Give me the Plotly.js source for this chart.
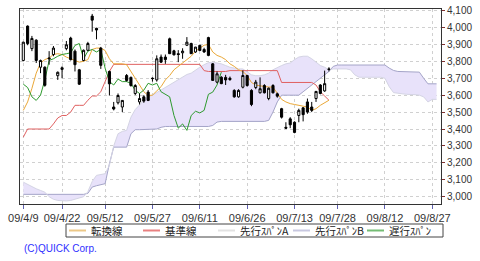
<!DOCTYPE html>
<html><head><meta charset="utf-8">
<script src="https://cdn.plot.ly/plotly-3.0.1.min.js"></script>
<style>html,body{margin:0;padding:0;background:#fff;} #chart{width:480px;height:261px;}</style>
</head><body><div id="chart"></div>
<script>
// x tick labels (trading-day index positions)
const tickIdx = [0, 9, 19, 30, 41, 52, 63, 73, 84, 95];
const tickLabels = ['09/4/9','09/4/22','09/5/12','09/5/27','09/6/11','09/6/26','09/7/13','09/7/28','09/8/12','09/8/27'];

// daily candles (trading-day index)
const candleIdx = [0,1,2,3,4,5,6,7,8,9,10,11,12,13,14,15,16,17,18,20,21,22,23,24,25,26,27,28,29,30,31,32,33,34,35,36,37,38,39,40,41,42,43,44,45,46,47,48,49,50,51,52,53,54,55,56,57,58,59,60,61,62,63,64,65,66,67,68,69,70,71];
const openP  = [3805,4008,3875,3925,3765,3765,3820,3840,3715,3752,3875,3937,3860,3750,3805,3865,4067,3995,3878,3740,3530,3555,3530,3716,3705,3610,3560,3590,3618,3700,3690,3825,3825,3933,3862,3845,3850,3895,3905,3855,3894,3870,3940,3785,3677,3706,3705,3700,3628,3590,3647,3716,3628,3645,3614,3657,3580,3657,3608,3520,3410,3460,3440,3480,3525,3560,3530,3580,3660,3625,3755];
const highP  = [3915,4012,3950,3930,3810,3770,3860,3890,3740,3770,3920,3945,3870,3755,3870,3915,4080,3998,3885,3745,3560,3610,3570,3725,3710,3665,3610,3600,3630,3705,3835,3840,3840,3940,3868,3866,3877,3943,3910,3885,3898,3880,3945,3790,3740,3712,3720,3710,3635,3635,3746,3720,3635,3690,3705,3665,3645,3665,3615,3525,3440,3470,3445,3520,3530,3580,3560,3625,3665,3745,3765];
const lowP   = [3800,3895,3860,3790,3730,3650,3780,3830,3690,3700,3865,3805,3740,3660,3800,3860,3975,3930,3755,3598,3510,3545,3500,3680,3650,3600,3545,3555,3565,3680,3680,3790,3785,3845,3835,3795,3815,3890,3845,3850,3860,3850,3830,3685,3670,3665,3660,3685,3585,3585,3640,3650,3535,3635,3610,3610,3570,3610,3585,3462,3400,3405,3375,3440,3445,3490,3500,3560,3605,3620,3740];
const closeP = [3913,3905,3935,3805,3805,3658,3815,3878,3735,3762,3898,3810,3780,3665,3865,3905,4043,3985,3776,3667,3518,3598,3569,3687,3657,3657,3580,3565,3569,3698,3815,3795,3810,3845,3838,3840,3860,3913,3845,3884,3864,3855,3835,3687,3726,3668,3690,3692,3590,3628,3716,3657,3545,3677,3638,3614,3641,3614,3594,3470,3405,3425,3380,3510,3485,3500,3510,3622,3610,3668,3752];

// 転換線 (index 0..71)
const tenkan = [3510,3560,3640,3730,3790,3810,3820,3840,3845,3840,
  3825,3815,3805,3795,3800,3810,3870,3878,3878,3864,
  3815,3785,3785,3785,3780,3740,3700,3667,3620,3598,
  3600,3625,3650,3690,3716,3750,3770,3785,3805,3830,
  3860,3880,3895,3900,3855,3835,3825,3810,3785,3770,
  3750,3740,3716,3675,3660,3655,3650,3648,3647,3610,
  3575,3560,3550,3545,3540,3535,3530,3510,3520,3540,
  3555,3570];
// 基準線 (index 0..71)
const kijun = [3352,3400,3400,3400,3400,3400,3400,3430,3465,3480,
  3480,3500,3540,3540,3540,3570,3595,3595,3620,3680,
  3740,3782,3782,3782,3782,3782,3782,3782,3782,3782,
  3782,3782,3782,3782,3782,3782,3782,3782,3782,3782,
  3782,3782,3745,3740,3740,3740,3740,3740,3745,3745,
  3745,3745,3745,3745,3745,3745,3745,3745,3745,3745,
  3675,3675,3675,3675,3675,3675,3675,3675,3660,3620,
  3595,3570];
// 遅行スパン (index 0..46)
const chikou = [3665,3645,3590,3569,3600,3690,3805,3815,3830,3840,
  3845,3850,3894,3905,3815,3860,3870,3855,3870,3760,
  3680,3660,3695,3680,3680,3670,3628,3610,3630,3670,
  3660,3670,3620,3605,3590,3480,3405,3430,3392,3480,
  3505,3495,3510,3605,3618,3660,3736];
// 先行スパンA (index 0..96)
const spanA = [3086,3072,3060,3047,3037,3027,3000,2985,2978,2975,
  2975,2978,2985,2994,3000,3030,3090,3126,3130,3136,
  3185,3300,3372,3386,3392,3470,3515,3545,3570,3590,
  3600,3615,3630,3645,3660,3680,3695,3710,3722,3730,
  3750,3765,3780,3792,3795,3791,3785,3775,3765,3760,
  3755,3755,3740,3720,3715,3715,3720,3730,3750,3765,
  3775,3785,3790,3810,3825,3830,3830,3815,3795,3775,
  3765,3750,3755,3755,3755,3755,3750,3720,3706,3706,
  3706,3706,3706,3706,3700,3650,3615,3610,3608,3605,
  3605,3603,3600,3590,3560,3575,3575];
// 先行スパンB (index 0..96)
const spanB = [3014,3014,3014,3014,3014,3014,3014,3014,3014,3014,
  3014,3014,3014,3014,3014,3020,3057,3065,3070,3077,
  3195,3293,3293,3293,3293,3372,3396,3396,3396,3396,
  3396,3400,3410,3415,3415,3415,3415,3415,3415,3415,
  3415,3415,3415,3415,3421,3441,3445,3445,3445,3445,
  3445,3445,3445,3445,3445,3445,3445,3451,3500,3560,
  3600,3600,3600,3600,3600,3620,3640,3665,3680,3700,
  3720,3740,3770,3778,3778,3778,3778,3778,3778,3778,
  3778,3778,3778,3778,3778,3760,3746,3740,3740,3740,
  3740,3740,3736,3700,3667,3667,3667];

const idx = n => Array.from({length:n}, (_, i) => i);

const XR = [-0.77, 97.03], YR = [2957, 4109];

const traces = [
  {type:'scatter', mode:'lines', x: idx(spanB.length), y: spanB, name:'先行ｽﾊﾟﾝB',
   line:{color:'#a4a4c8', width:1}, hoverinfo:'skip'},
  {type:'scatter', mode:'lines', x: idx(spanA.length), y: spanA, name:'先行ｽﾊﾟﾝA',
   line:{color:'#d4d4e4', width:1}, fill:'tonexty', fillcolor:'#e8e2fa', hoverinfo:'skip'},
  {type:'scatter', mode:'lines', x: idx(kijun.length), y: kijun, name:'基準線',
   line:{color:'#e06060', width:1}, hoverinfo:'skip'},
  {type:'scatter', mode:'lines', x: idx(tenkan.length), y: tenkan, name:'転換線',
   line:{color:'#eaa838', width:1}, hoverinfo:'skip'},
  {type:'scatter', mode:'lines', x: idx(chikou.length), y: chikou, name:'遅行ｽﾊﾟﾝ',
   line:{color:'#2e9a2e', width:1}, hoverinfo:'skip'},
  {type:'candlestick', xaxis:'x2', yaxis:'y2',
   x: candleIdx, open: openP, high: highP, low: lowP, close: closeP,
   increasing:{line:{color:'#000', width:1}, fillcolor:'#ffffff'},
   decreasing:{line:{color:'#000', width:1}, fillcolor:'#000000'},
   whiskerwidth:0, hoverinfo:'skip'}
];

// pixel helpers for legend / credit placement
const L = 20, R = 39, T = 9, B = 57, W = 480, H = 261;
const px = x => (x - L) / (W - L - R);
const py = y => (H - B - y) / (H - T - B);

const legendItems = [
  {name:'転換線', color:'#ecc888', x0:69},
  {name:'基準線', color:'#e88080', x0:143},
  {name:'先行ｽﾊﾟﾝA', color:'#e2e2e2', x0:218},
  {name:'先行ｽﾊﾟﾝB', color:'#c8c8e0', x0:293},
  {name:'遅行ｽﾊﾟﾝ', color:'#74bc74', x0:367}
];
const shapes = [
  {type:'rect', xref:'paper', yref:'paper', x0:px(66), x1:px(443), y0:py(237), y1:py(224),
   line:{color:'#444', width:1}, fillcolor:'#fff', layer:'above'}
];
const annotations = [];
legendItems.forEach(it => {
  shapes.push({type:'line', xref:'paper', yref:'paper', x0:px(it.x0), x1:px(it.x0+17),
    y0:py(230.5), y1:py(230.5), line:{color:it.color, width:2}, layer:'above'});
  annotations.push({xref:'paper', yref:'paper', x:px(it.x0+20), y:py(230.5), text:it.name,
    showarrow:false, xanchor:'left', yanchor:'middle',
    font:{family:'"Noto Sans CJK JP", sans-serif', size:10.5, color:'#222'}});
});
annotations.push({xref:'paper', yref:'paper', x:px(22), y:py(248), text:'(C)QUICK Corp.',
  showarrow:false, xanchor:'left', yanchor:'middle',
  font:{family:'"Liberation Sans", Arial, sans-serif', size:10, color:'#3030ff'}});

const layout = {
  width:W, height:H,
  margin:{l:L, r:R, t:T, b:B, pad:0},
  paper_bgcolor:'#fff', plot_bgcolor:'#fff',
  showlegend:false,
  font:{family:'"Liberation Sans", Arial, sans-serif', size:11, color:'#333'},
  xaxis:{type:'linear', range:XR, tickmode:'array', tickvals:tickIdx, ticktext:tickLabels,
    showgrid:true, gridcolor:'#d0d0d0', griddash:'3px,3px', gridwidth:1,
    zeroline:false, showline:true, linecolor:'#333', linewidth:1, mirror:true,
    ticks:'outside', ticklen:4, tickcolor:'#6060b0', tickfont:{size:11, color:'#333'},
    rangeslider:{visible:false}, fixedrange:true},
  yaxis:{range:YR, side:'right', tickmode:'array',
    tickvals:[3000,3100,3200,3300,3400,3500,3600,3700,3800,3900,4000,4100],
    ticktext:['3,000','3,100','3,200','3,300','3,400','3,500','3,600','3,700','3,800','3,900','4,000','4,100'],
    showgrid:true, gridcolor:'#d0d0d0', griddash:'3px,3px', gridwidth:1,
    zeroline:false, showline:true, linecolor:'#333', linewidth:1, mirror:true,
    ticks:'outside', ticklen:3, tickcolor:'#803030', tickfont:{size:10, color:'#333'}, fixedrange:true},
  xaxis2:{type:'linear', range:XR, overlaying:'x', visible:false, showgrid:false, zeroline:false,
    rangeslider:{visible:false}, fixedrange:true},
  yaxis2:{range:YR, overlaying:'y', visible:false, showgrid:false, zeroline:false, fixedrange:true},
  shapes:shapes, annotations:annotations
};

Plotly.newPlot('chart', traces, layout, {staticPlot:true, displayModeBar:false});
</script>
</body></html>
